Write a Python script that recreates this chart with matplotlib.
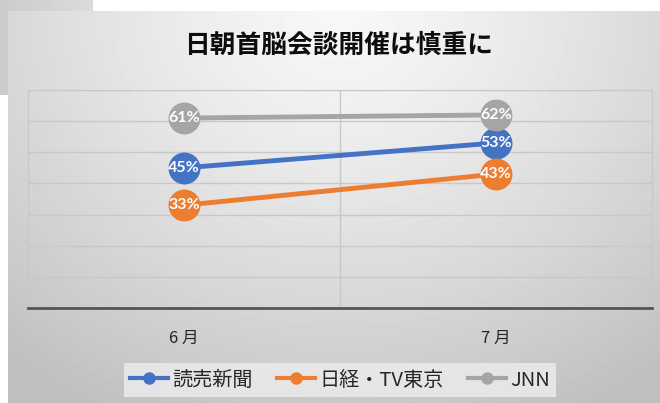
import numpy as np
import matplotlib.pyplot as plt
from matplotlib.lines import Line2D

plt.rcParams['font.family'] = ['Noto Sans CJK JP', 'DejaVu Sans']

# data
months = ['6 月', '7 月']
series_names = ['読売新聞', '日経・TV東京', 'JNN']
yomiuri = [45, 53]
nikkei = [33, 43]
jnn = [61, 62]
colors = ['#4472C4', '#ED7D31', '#A5A5A5']
title = '日朝首脳会談開催は慎重に'

W, H = 660, 403
fig = plt.figure(figsize=(W / 100, H / 100), dpi=100)

# background: white, gray square behind, gradient panel
yy, xx = np.mgrid[0:H, 0:W]
img = np.ones((H, W))
sq = (xx < 93) & (yy < 95)
img[sq] = 0.80 + 0.06 * (xx[sq] / 93) * (1 - yy[sq] / 95)
d = np.sqrt(((xx - 340) / 1.0) ** 2 + ((yy - 10) * 1.15) ** 2)
panel = 0.97 - 0.22 * np.clip(d / 520, 0, 1) ** 1.3
pm = (xx >= 8) & (yy >= 11)
img[pm] = panel[pm]
bg = fig.add_axes([0, 0, 1, 1], zorder=-5)
bg.imshow(img, cmap='gray', vmin=0, vmax=1, aspect='auto', interpolation='bilinear')
bg.axis('off')

fig.text(339 / W, 1 - 45 / H, title, ha='center', va='center',
         fontsize=18.5, fontweight='bold', color='#0d0d0d')

ax = fig.add_axes([28 / W, 1 - 308 / H, (652 - 28) / W, (308 - 90) / H])
ax.set_facecolor('none')
x = np.arange(len(months))
for vals, c, name in zip([yomiuri, nikkei, jnn], colors, series_names):
    ax.plot(x, vals, color=c, lw=3.5, marker='o', ms=22, solid_capstyle='round',
            zorder=3, label=name)
    for xi, v in zip(x, vals):
        ax.text(xi, v, f'{v}%', ha='center', va='center', color='white',
                fontsize=11.5, fontweight='bold', zorder=4,
                family=['Lato', 'DejaVu Sans'])

ax.set_xlim(-0.5, 1.5)
ax.set_ylim(0, 70)
ax.set_yticks(np.arange(0, 71, 10))
ax.set_yticklabels([])
ax.yaxis.grid(True, color='#c8c8c8', lw=1)
ax.axvline(0.5, color='#c8c8c8', lw=1, zorder=1)
ax.set_xticks(x)
ax.set_xticklabels(months, fontsize=12, color='#262626')
ax.tick_params(length=0, pad=16)
for s in ['left', 'right', 'top']:
    ax.spines[s].set_color('#c8c8c8')
ax.spines['bottom'].set_color('#555555')
ax.spines['bottom'].set_linewidth(2)
ax.set_axisbelow(True)

handles = [Line2D([], [], color=c, lw=3, marker='o', ms=8) for c in colors]
leg = fig.legend(handles, series_names, loc='center', bbox_to_anchor=(340 / W, 1 - 380 / H),
                 ncol=3, frameon=True, fontsize=14.5, handlelength=1.9,
                 handletextpad=0.2, columnspacing=1.2, borderpad=0.3)
leg.get_frame().set_facecolor('#e9e9e9')
leg.get_frame().set_edgecolor('none')
leg.get_frame().set_boxstyle('square', pad=0)
leg.get_frame().set_alpha(0.9)
for t in leg.get_texts():
    t.set_color('#262626')

fig.savefig('out.png', dpi=100)
